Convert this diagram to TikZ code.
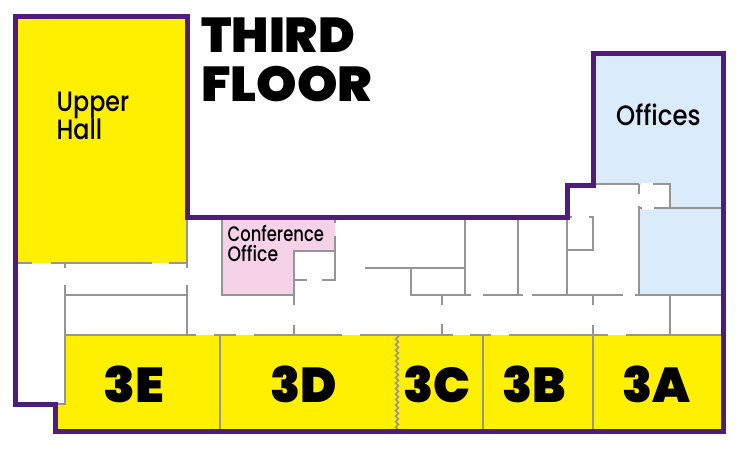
\documentclass[tikz,border=0pt]{standalone}
\usepackage{fontspec}
\usepackage{graphicx}
\usetikzlibrary{decorations.pathmorphing}
\setmainfont{Poppins Medium}
\newfontfamily\heavyfont{Poppins Black}
\definecolor{hallyellow}{HTML}{FFF000}
\definecolor{wallpurple}{HTML}{4F1C7C}
\definecolor{wallgray}{HTML}{959595}
\definecolor{officeblue}{HTML}{DAEBFC}
\definecolor{confpink}{HTML}{F5D2E8}
\tikzset{
  wall/.style={draw=wallgray,line width=2.3pt},
  outerwall/.style={draw=wallpurple,line width=5pt,miter limit=10},
  heading/.style={anchor=base west,inner sep=0pt,font=\heavyfont\fontsize{49}{49}\selectfont},
  unitlabel/.style={anchor=base,inner sep=0pt,font=\heavyfont\fontsize{49}{49}\selectfont},
  roomlabel/.style={anchor=base west,inner sep=0pt,font=\fontsize{28}{28}\selectfont},
  smalllabel/.style={anchor=base west,inner sep=0pt,font=\fontsize{21}{21}\selectfont}
}
\begin{document}
\begin{tikzpicture}[x=1pt,y=-1pt]
\useasboundingbox (0,0) rectangle (738,448);
% room fills
\fill[hallyellow] (17,16) rectangle (187,263);
\fill[hallyellow] (65,335) rectangle (721,431);
\fill[hallyellow] (55,404) rectangle (65,431);
\fill[officeblue] (593,53) -- (723,53) -- (723,208) -- (670,208) -- (670,185) -- (593,185) -- cycle;
\fill[officeblue] (639,208) rectangle (723,295);
\fill[white] (642,183) rectangle (654,210);
\fill[confpink] (222,217) -- (335,217) -- (335,251) -- (294,251) -- (294,295) -- (222,295) -- cycle;
% gray walls
\draw[wall] (17,263) -- (32,263) (51,263) -- (152,263) (169,263) -- (187,263);
\draw[wall] (65,263) -- (65,268) (65,285) -- (65,404) -- (57,404);
\draw[wall] (65,295) -- (187,295);
\draw[wall] (187,217) -- (187,268) (187,285) -- (187,335);
\draw[wall] (65,335) -- (196,335) (214,335) -- (236,335) (254,335) -- (342,335) (360,335) -- (453,335) (470,335) -- (491,335) (509,335) -- (608,335) (626,335) -- (721,335);
\draw[wall] (220,335) -- (220,431);
\draw[wall] (483,335) -- (483,431);
\draw[wall] (593,325) -- (593,431) (593,295) -- (593,305);
\draw[wall] (65,431) -- (721,431);
\draw[wall,line width=1.5pt,decorate,decoration={zigzag,amplitude=1.5pt,segment length=5.5pt}] (397,335) -- (397,431);
% conference office
\draw[wall] (222,217) -- (222,295) -- (294,295);
\draw[wall] (294,305) -- (294,251) -- (335,251);
\draw[wall] (335,217) -- (335,223) (335,236) -- (335,280) -- (322,280) (307,280) -- (294,280);
\draw[wall] (294,325) -- (294,335);
% middle rooms
\draw[wall] (365,268) -- (465,268);
\draw[wall] (465,217) -- (465,295);
\draw[wall] (518,217) -- (518,295);
\draw[wall] (567,217) -- (567,295);
\draw[wall] (411,268) -- (411,295) -- (471,295) (483,295) -- (523,295) (532,295) -- (623,295) (635,295) -- (721,295);
\draw[wall] (442,295) -- (442,305) (442,324) -- (442,335);
\draw[wall] (567,217) -- (572,217) (589,217) -- (593,217) -- (593,250) -- (567,250);
% offices walls
\draw[wall] (593,184) -- (639,184) (653,184) -- (670,184) -- (670,208);
\draw[wall] (639,184) -- (639,194) (639,206) -- (639,295);
\draw[wall] (639,208) -- (642,208) (654,208) -- (721,208);
\draw[wall] (670,295) -- (670,335);
% outer wall
\draw[outerwall] (187,217) -- (187,16) -- (15,16) -- (15,404) -- (55,404) -- (55,431) -- (723,431) -- (723,53) -- (593,53) -- (593,185) -- (567,185) -- (567,217) -- cycle;
% labels
\node[heading] (third) at (201,52.5) {\scalebox{1.01}[1]{THIRD}};
\node[heading] (floor) at (201,101.5) {\scalebox{1.05}[1]{FLOOR}};
\node[roomlabel] (upper) at (56.5,111) {\scalebox{0.85}[1]{Upper}};
\node[roomlabel] (hall) at (56.5,139) {\scalebox{0.85}[1]{Hall}};
\node[roomlabel] (offices) at (616,125) {\scalebox{0.87}[1]{Offices}};
\node[smalllabel] (conf) at (227.5,241.5) {\scalebox{0.78}[1]{Conference}};
\node[smalllabel] (office) at (227.5,261) {\scalebox{0.82}[1]{Office}};
\node[unitlabel] (e) at (134,402.5) {\scalebox{1.06}[1]{3E}};
\node[unitlabel] (d) at (304,402.5) {3D};
\node[unitlabel] (c) at (437,402.5) {3C};
\node[unitlabel] (b) at (534,402.5) {3B};
\node[unitlabel] (a) at (656.5,402.5) {3A};
\end{tikzpicture}
\end{document}
